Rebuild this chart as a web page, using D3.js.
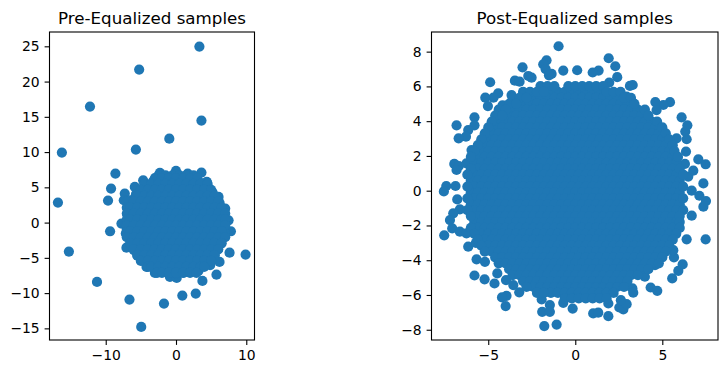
<!DOCTYPE html>
<html>
<head>
<meta charset="utf-8">
<script src="https://cdn.jsdelivr.net/npm/d3@7"></script>
<style>
body { margin: 0; background: #fff; }
text { font-family: "DejaVu Sans", sans-serif; }
</style>
</head>
<body>
<script>
var w = 728;
var h = 374;

var preTicksX = [-10, 0, 10];
var preTicksY = [-15, -10, -5, 0, 5, 10, 15, 20, 25];
var postTicksX = [-5, 0, 5];
var postTicksY = [-8, -6, -4, -2, 0, 2, 4, 6, 8];

// outliers and rim of the left cloud
var preEdge = [[3.33,24.97],[-5.24,21.7],[-12.24,16.45],[3.62,14.47],[-0.95,11.9],[-5.71,10.35],[-16.24,9.93],
[-8.62,6.95],[3.62,7.09],[-9.24,4.82],[-9.67,3.12],[-16.8,2.84],[-9.38,-1.23],[-15.24,-4.11],[-7.05,-3.55],
[7.62,-4.26],[9.9,-4.54],[6.19,-5.58],[5.76,-7.38],[3.76,-8.27],[-11.24,-8.42],[2.81,-10.07],[0.9,-10.35],
[-6.62,-10.92],[-1.71,-11.49],[-4.95,-14.8],[7.81,-1.23],[-7.29,4.11],[-7.43,3.17],[-7.76,-0.14],[-7.14,-1.56],
[-2.29,7.05],[0,7.33],[1.67,6.95],[4.38,5.77],[6.05,3.64],[7,1.99],[7.48,0.33],[-3,-7.14],[-0.86,-7.7],[0.1,-7.85],
[3.19,-6.86],[4.86,-6.05],[-4.19,-6.29],[-4.67,6],[-5.86,5.06]];

// solid outline of the left cloud
var preRim = [[6.9,-.5],[6.8,.7],[6.6,1.7],[6.2,2.8],[5.8,3.6],[5.2,4.3],[4.4,5],[3.6,5.6],[2.7,6],[1.8,6.3],[.8,6.5],[-.3,6.5],
[-1.3,6.4],[-2.3,6.2],[-3.3,5.8],[-4.2,5.3],[-5,4.7],[-5.7,4],[-6.3,3.2],[-6.7,2.2],[-6.9,1.1],[-7,0],[-7,-1],[-6.8,-2],[-6.5,-3],
[-6,-3.9],[-5.5,-4.7],[-4.8,-5.4],[-4,-6],[-3.1,-6.5],[-2.1,-6.9],[-1.1,-7.1],[0,-7.2],[1.1,-7.1],[2.2,-6.9],[3.2,-6.4],[4.1,-5.9],
[4.9,-5.2],[5.5,-4.6],[6,-3.8],[6.4,-3],[6.7,-2.1],[6.9,-1.3]];

// dense middle of the left cloud, one [y, xs] per row
var preCore = [
[6.7,[-2.5,-1.5,-.5,.5,1.5,2.5]],
[6.32,[-3,-2,-1,0,1,2,3]],
[5.48,[-4.5,-3.5,-2.5,-1.5,-.5,.5,1.5,2.5,3.5,4.5]],
[4.64,[-5,-4,-3,-2,-1,0,1,2,3,4,5]],
[3.8,[-5.5,-4.5,-3.5,-2.5,-1.5,-.5,.5,1.5,2.5,3.5,4.5,5.5]],
[2.96,[-7,-6,-5,-4,-3,-2,-1,0,1,2,3,4,5,6]],
[2.12,[-7,-6.5,-5.5,-4.5,-3.5,-2.5,-1.5,-.5,.5,1.5,2.5,3.5,4.5,5.5,6.5]],
[1.28,[-7,-6,-5,-4,-3,-2,-1,0,1,2,3,4,5,6,7]],
[0.44,[-7,-6.5,-5.5,-4.5,-3.5,-2.5,-1.5,-.5,.5,1.5,2.5,3.5,4.5,5.5,6.5,7]],
[-0.4,[-7,-6,-5,-4,-3,-2,-1,0,1,2,3,4,5,6,7]],
[-1.24,[-7,-6.5,-5.5,-4.5,-3.5,-2.5,-1.5,-.5,.5,1.5,2.5,3.5,4.5,5.5,6.5]],
[-2.08,[-7,-6,-5,-4,-3,-2,-1,0,1,2,3,4,5,6,7]],
[-2.92,[-6.5,-5.5,-4.5,-3.5,-2.5,-1.5,-.5,.5,1.5,2.5,3.5,4.5,5.5,6.5]],
[-3.76,[-6,-5,-4,-3,-2,-1,0,1,2,3,4,5,6]],
[-4.6,[-5.5,-4.5,-3.5,-2.5,-1.5,-.5,.5,1.5,2.5,3.5,4.5,5.5]],
[-5.44,[-5,-4,-3,-2,-1,0,1,2,3,4,5]],
[-6.28,[-4,-3.5,-2.5,-1.5,-.5,.5,1.5,2.5,3.5,4]],
[-7.12,[-2.7,-2,-1,0,1,2,2.9]]
];

// stragglers round the right cloud
var postEdge = [[-0.96,8.31],[1.92,7.62],[2.3,7.16],[2.41,6.53],[0.11,6.93],[1.34,6.91],[1,6.8],[-0.69,6.91],[-1.65,7.5],
[-1.84,7.27],[-1.7,6.99],[-1.36,6.72],[-1.51,6.64],[-3.03,7.1],[-2.7,6.6],[-2.51,6.5],[-3.47,6.33],[-3.2,6.27],[-4.89,6.24],
[-4.43,5.6],[-4.7,5.35],[-5.17,5.35],[-5.02,4.87],[-4.18,4.91],[-3.66,5.5],[-5.79,4.22],[-6.82,3.76],[-5.79,3.76],[-6.15,3.49],
[-6.28,3.11],[-6.7,3.01],[-5.96,2.34],[-6.95,1.54],[-6.69,1.42],[-6.82,1.19],[-6.25,1.57],[-6.88,0.27],[-7.41,0.27],[-7.55,-0.04],
[-6.78,-0.5],[-6.63,-1.07],[-7.01,-1.3],[-7.2,-1.69],[-7.07,-2.17],[-7.53,-2.57],[-6.63,-2.36],[-6.25,-2.46],[-6.15,-3.22],
[-5.71,-3],[-5.67,-3.95],[-5.19,-4.09],[-5.79,-4.88],[-5.21,-5.1],[-4.64,-5.34],[-4.48,-4.76],[-3.98,-5.14],[-3.56,-5.43],
[-3.22,-5.85],[-3.95,-6.05],[-4.21,-6.14],[-4,-6.64],[-2.8,-5.43],[-1.93,-6.26],[-1.46,-6.58],[-1.9,-6.97],[-1.46,-6.97],
[-1.78,-7.79],[-1.07,-7.7],[-0.69,-6.45],[-0.15,-6.78],[1.03,-7.06],[1.32,-7.02],[1.9,-7.22],[1.9,-6.49],[2.53,-6.72],[2.76,-6.83],
[2.95,-6.53],[2.62,-6.3],[3.28,-5.62],[3.33,-5.87],[4,-4.95],[4.33,-5.57],[4.71,-5.76],[5.57,-5.05],[5.92,-4.61],[6.17,-4.24],
[5.67,-3.84],[4.58,-4.28],[5.63,-3.42],[6.4,-2.8],[7.49,-2.8],[6.69,-1.44],[7.36,-0.92],[7.51,-0.6],[7.13,-0.29],[6.69,0],
[7.36,0.42],[6.49,0.81],[6.78,1.15],[7.07,1.8],[7.49,1.52],[6.3,1.54],[6.36,2.25],[6.4,2.96],[6.32,3.4],[6.44,3.76],[6.11,4.22],
[5.82,3.01],[5.44,5.09],[5.06,4.93],[4.6,5.1],[4.67,4.64],[3.33,5.03],[2.95,5.41],[3.14,6.03],[3.3,6.08],[1.95,6.22]];

// dense middle of the right cloud, one [y, xs] per row
var postCore = [
[5.68,[-1.4,-1,-.6,-.2,.2,.6,1,1.4]],
[5.34,[-2.4,-2,-1.6,-1.2,-.8,-.4,0,.4,.8,1.2,1.6,2,2.4]],
[5,[-3,-2.6,-2.2,-1.8,-1.4,-1,-.6,-.2,.2,.6,1,1.4,1.8,2.2,2.6,3]],
[4.66,[-3.6,-3.2,-2.8,-2.4,-2,-1.6,-1.2,-.8,-.4,0,.4,.8,1.2,1.6,2,2.4,2.8,3.2,3.6]],
[4.32,[-3.8,-3.4,-3,-2.6,-2.2,-1.8,-1.4,-1,-.6,-.2,.2,.6,1,1.4,1.8,2.2,2.6,3,3.4,3.8]],
[3.98,[-4.4,-4,-3.6,-3.2,-2.8,-2.4,-2,-1.6,-1.2,-.8,-.4,0,.4,.8,1.2,1.6,2,2.4,2.8,3.2,3.6,4,4.4]],
[3.64,[-4.6,-4.2,-3.8,-3.4,-3,-2.6,-2.2,-1.8,-1.4,-1,-.6,-.2,.2,.6,1,1.4,1.8,2.2,2.6,3,3.4,3.8,4.2,4.6]],
[3.3,[-4.8,-4.4,-4,-3.6,-3.2,-2.8,-2.4,-2,-1.6,-1.2,-.8,-.4,0,.4,.8,1.2,1.6,2,2.4,2.8,3.2,3.6,4,4.4,4.8]],
[2.96,[-5,-4.6,-4.2,-3.8,-3.4,-3,-2.6,-2.2,-1.8,-1.4,-1,-.6,-.2,.2,.6,1,1.4,1.8,2.2,2.6,3,3.4,3.8,4.2,4.6,5]],
[2.62,[-5.2,-4.8,-4.4,-4,-3.6,-3.2,-2.8,-2.4,-2,-1.6,-1.2,-.8,-.4,0,.4,.8,1.2,1.6,2,2.4,2.8,3.2,3.6,4,4.4,4.8,5.2]],
[2.28,[-5.4,-5,-4.6,-4.2,-3.8,-3.4,-3,-2.6,-2.2,-1.8,-1.4,-1,-.6,-.2,.2,.6,1,1.4,1.8,2.2,2.6,3,3.4,3.8,4.2,4.6,5,5.4]],
[1.94,[-5.6,-5.2,-4.8,-4.4,-4,-3.6,-3.2,-2.8,-2.4,-2,-1.6,-1.2,-.8,-.4,0,.4,.8,1.2,1.6,2,2.4,2.8,3.2,3.6,4,4.4,4.8,5.2,5.6]],
[1.6,[-5.8,-5.4,-5,-4.6,-4.2,-3.8,-3.4,-3,-2.6,-2.2,-1.8,-1.4,-1,-.6,-.2,.2,.6,1,1.4,1.8,2.2,2.6,3,3.4,3.8,4.2,4.6,5,5.4,5.8]],
[1.26,[-5.6,-5.2,-4.8,-4.4,-4,-3.6,-3.2,-2.8,-2.4,-2,-1.6,-1.2,-.8,-.4,0,.4,.8,1.2,1.6,2,2.4,2.8,3.2,3.6,4,4.4,4.8,5.2,5.6]],
[.92,[-5.8,-5.4,-5,-4.6,-4.2,-3.8,-3.4,-3,-2.6,-2.2,-1.8,-1.4,-1,-.6,-.2,.2,.6,1,1.4,1.8,2.2,2.6,3,3.4,3.8,4.2,4.6,5,5.4,5.8]],
[.58,[-6,-5.6,-5.2,-4.8,-4.4,-4,-3.6,-3.2,-2.8,-2.4,-2,-1.6,-1.2,-.8,-.4,0,.4,.8,1.2,1.6,2,2.4,2.8,3.2,3.6,4,4.4,4.8,5.2,5.6,6]],
[.24,[-5.8,-5.4,-5,-4.6,-4.2,-3.8,-3.4,-3,-2.6,-2.2,-1.8,-1.4,-1,-.6,-.2,.2,.6,1,1.4,1.8,2.2,2.6,3,3.4,3.8,4.2,4.6,5,5.4,5.8]],
[-.1,[-6,-5.6,-5.2,-4.8,-4.4,-4,-3.6,-3.2,-2.8,-2.4,-2,-1.6,-1.2,-.8,-.4,0,.4,.8,1.2,1.6,2,2.4,2.8,3.2,3.6,4,4.4,4.8,5.2,5.6,6]],
[-.44,[-5.8,-5.4,-5,-4.6,-4.2,-3.8,-3.4,-3,-2.6,-2.2,-1.8,-1.4,-1,-.6,-.2,.2,.6,1,1.4,1.8,2.2,2.6,3,3.4,3.8,4.2,4.6,5,5.4,5.8]],
[-.78,[-6,-5.6,-5.2,-4.8,-4.4,-4,-3.6,-3.2,-2.8,-2.4,-2,-1.6,-1.2,-.8,-.4,0,.4,.8,1.2,1.6,2,2.4,2.8,3.2,3.6,4,4.4,4.8,5.2,5.6,6]],
[-1.12,[-5.8,-5.4,-5,-4.6,-4.2,-3.8,-3.4,-3,-2.6,-2.2,-1.8,-1.4,-1,-.6,-.2,.2,.6,1,1.4,1.8,2.2,2.6,3,3.4,3.8,4.2,4.6,5,5.4,5.8]],
[-1.46,[-5.6,-5.2,-4.8,-4.4,-4,-3.6,-3.2,-2.8,-2.4,-2,-1.6,-1.2,-.8,-.4,0,.4,.8,1.2,1.6,2,2.4,2.8,3.2,3.6,4,4.4,4.8,5.2,5.6]],
[-1.8,[-5.8,-5.4,-5,-4.6,-4.2,-3.8,-3.4,-3,-2.6,-2.2,-1.8,-1.4,-1,-.6,-.2,.2,.6,1,1.4,1.8,2.2,2.6,3,3.4,3.8,4.2,4.6,5,5.4,5.8]],
[-2.14,[-5.6,-5.2,-4.8,-4.4,-4,-3.6,-3.2,-2.8,-2.4,-2,-1.6,-1.2,-.8,-.4,0,.4,.8,1.2,1.6,2,2.4,2.8,3.2,3.6,4,4.4,4.8,5.2,5.6]],
[-2.48,[-5.4,-5,-4.6,-4.2,-3.8,-3.4,-3,-2.6,-2.2,-1.8,-1.4,-1,-.6,-.2,.2,.6,1,1.4,1.8,2.2,2.6,3,3.4,3.8,4.2,4.6,5,5.4]],
[-2.82,[-5.2,-4.8,-4.4,-4,-3.6,-3.2,-2.8,-2.4,-2,-1.6,-1.2,-.8,-.4,0,.4,.8,1.2,1.6,2,2.4,2.8,3.2,3.6,4,4.4,4.8,5.2]],
[-3.16,[-5,-4.6,-4.2,-3.8,-3.4,-3,-2.6,-2.2,-1.8,-1.4,-1,-.6,-.2,.2,.6,1,1.4,1.8,2.2,2.6,3,3.4,3.8,4.2,4.6,5]],
[-3.5,[-4.8,-4.4,-4,-3.6,-3.2,-2.8,-2.4,-2,-1.6,-1.2,-.8,-.4,0,.4,.8,1.2,1.6,2,2.4,2.8,3.2,3.6,4,4.4,4.8]],
[-3.84,[-4.6,-4.2,-3.8,-3.4,-3,-2.6,-2.2,-1.8,-1.4,-1,-.6,-.2,.2,.6,1,1.4,1.8,2.2,2.6,3,3.4,3.8,4.2,4.6]],
[-4.18,[-4.4,-4,-3.6,-3.2,-2.8,-2.4,-2,-1.6,-1.2,-.8,-.4,0,.4,.8,1.2,1.6,2,2.4,2.8,3.2,3.6,4,4.4]],
[-4.52,[-3.8,-3.4,-3,-2.6,-2.2,-1.8,-1.4,-1,-.6,-.2,.2,.6,1,1.4,1.8,2.2,2.6,3,3.4,3.8]],
[-4.86,[-3.6,-3.2,-2.8,-2.4,-2,-1.6,-1.2,-.8,-.4,0,.4,.8,1.2,1.6,2,2.4,2.8,3.2,3.6]],
[-5.2,[-3,-2.6,-2.2,-1.8,-1.4,-1,-.6,-.2,.2,.6,1,1.4,1.8,2.2,2.6,3]],
[-5.54,[-2.4,-2,-1.6,-1.2,-.8,-.4,0,.4,.8,1.2,1.6,2,2.4]],
[-5.88,[-1.4,-1,-.6,-.2,.2,.6,1,1.4]]
];

// outer band of the right cloud, where the solid part reaches past the rows above
var postRim = [
[6.02,[-2,-1.6,-1.2,-.4,0,.4,.8,1.2,1.6]],
[5.68,[-3,-2.6,-2.2,-1.8,1.8,2.2,2.6]],
[5.34,[-3.6,-3.2,-2.8,2.8,3.2]],
[5,[-3.8,-3.4,3.4]],
[4.66,[-4.4,-4,4]],
[4.32,[-4.6,-4.2,4.2]],
[3.98,[-4.8,4.7]],
[3.64,[-5,5]],
[3.3,[-5.2,5.2]],
[2.96,[-5.4,5.4]],
[2.62,[-5.6,5.6]],
[2.28,[-5.8,5.7]],
[1.94,[-6,5.9]],
[1.26,[-6,6]],
[.92,[-6.2,6.2]],
[.24,[-6.2,6.2]],
[-.44,[-6.2,6.2]],
[-1.12,[-6.2,6.2]],
[-1.46,[-6,6]],
[-1.8,[6]],
[-2.14,[-6,6]],
[-2.48,[-5.8,5.8]],
[-2.82,[-5.6,5.6]],
[-3.16,[-5.4,5.4]],
[-3.5,[-5.2,5.2]],
[-3.84,[5]],
[-4.18,[4.8]],
[-4.52,[4.2]],
[-5.54,[-2.8,2.8]],
[-5.88,[-2.2,-1.8,1.8,2.2]],
[-6.2,[-.6,-.2,.2,.6,1,1.4,1.8]]
];

function flatten(rows) {
    return rows.flatMap(function(r) {
        return r[1].map(function(x) { return [x, r[0]]; });
    });
}

var svg = d3.select("body")
            .append("svg")
            .attr("width", w)
            .attr("height", h)
            .style("display", "block");

function drawPanel(title, points, xDomain, yDomain, xTicks, yTicks, left, right) {
    var top = 32, bottom = 340;

    var xScale = d3.scaleLinear().domain(xDomain).range([left, right]);
    var yScale = d3.scaleLinear().domain(yDomain).range([bottom, top]);

    var clipId = "clip" + Math.round(left);
    svg.append("clipPath").attr("id", clipId)
        .append("rect")
        .attr("x", left).attr("y", top)
        .attr("width", right - left).attr("height", bottom - top);

    svg.append("g")
        .attr("clip-path", "url(#" + clipId + ")")
        .selectAll("circle")
        .data(points)
        .enter()
        .append("circle")
        .attr("cx", function(d) { return xScale(d[0]); })
        .attr("cy", function(d) { return yScale(d[1]); })
        .attr("r", 5.1)
        .attr("fill", "#1f77b4");

    var xAxis = d3.axisBottom(xScale).tickValues(xTicks).tickSize(4.9).tickPadding(4.9);
    var yAxis = d3.axisLeft(yScale).tickValues(yTicks).tickSize(4.9).tickPadding(4.9);

    [svg.append("g").attr("transform", "translate(0," + bottom + ")").call(xAxis),
     svg.append("g").attr("transform", "translate(" + left + ",0)").call(yAxis)].forEach(function(g) {
        g.select(".domain").remove();
        g.selectAll("line").attr("stroke", "#000").attr("stroke-width", 1.1);
        g.selectAll("text").attr("fill", "#000").style("font-size", "13.9px").style("font-family", "'DejaVu Sans'");
    });

    svg.append("rect")
        .attr("x", left).attr("y", top)
        .attr("width", right - left).attr("height", bottom - top)
        .attr("fill", "none")
        .attr("stroke", "#000")
        .attr("stroke-width", 1.1);

    svg.append("text")
        .attr("x", (left + right) / 2)
        .attr("y", 24)
        .attr("text-anchor", "middle")
        .style("font-size", "16.7px")
        .text(title);
}

drawPanel("Pre-Equalized samples", preEdge.concat(preRim, flatten(preCore)),
    [-18, 11.17], [-16.65, 27.03], preTicksX, preTicksY, 49.5, 254.5);
drawPanel("Post-Equalized samples", postEdge.concat(flatten(postCore), flatten(postRim)),
    [-8.26, 8.2], [-8.59, 9.13], postTicksX, postTicksY, 431.5, 718);
</script>
</body>
</html>
